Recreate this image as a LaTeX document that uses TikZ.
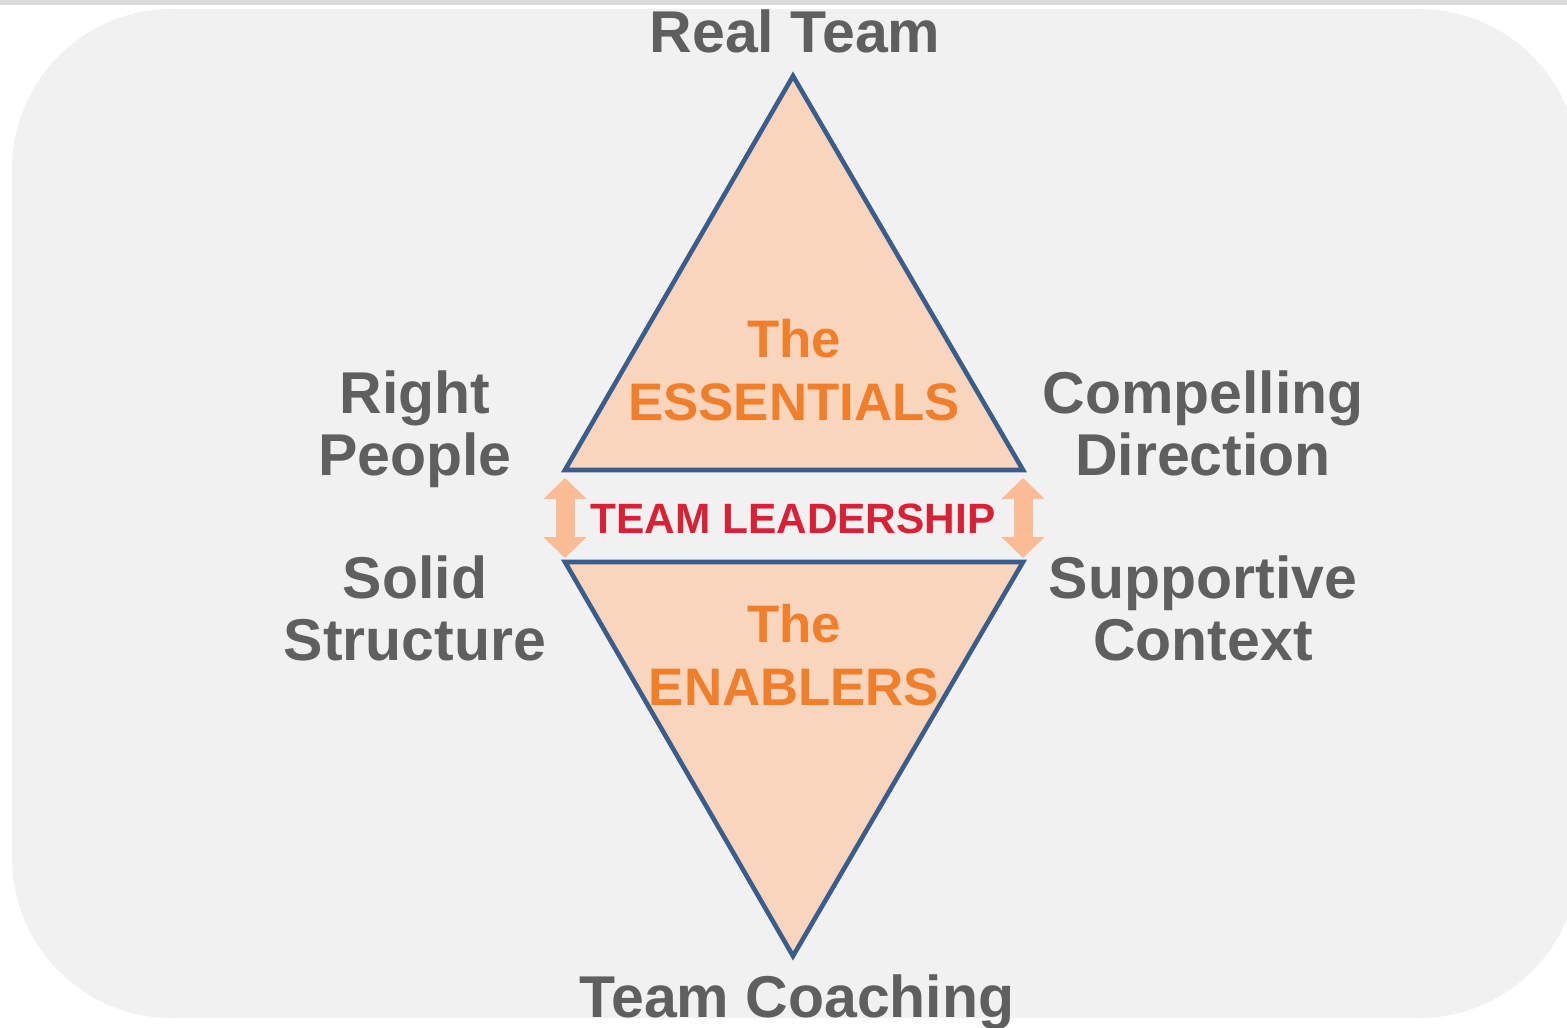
\documentclass[tikz,border=0pt]{standalone}
\usepackage{fontspec}
\setmainfont{Liberation Sans}
\usetikzlibrary{arrows.meta}

\definecolor{panelgray}{HTML}{F1F1F1}
\definecolor{bargray}{HTML}{DCDCDC}
\definecolor{edgeblue}{HTML}{3A5D8C}
\definecolor{peach}{HTML}{F9D5BD}
\definecolor{textgray}{HTML}{5F5F5F}
\definecolor{essorange}{HTML}{F07F2C}
\definecolor{leadred}{HTML}{D92135}
\definecolor{arrowpeach}{HTML}{F9BC94}

\begin{document}
\begin{tikzpicture}[x=0.5pt, y=-0.5pt,
    outertext/.style={textgray, align=center, anchor=base,
        font=\fontsize{29.5pt}{31pt}\selectfont\bfseries},
    innertext/.style={essorange, align=center, anchor=base,
        font=\fontsize{26.4pt}{31.5pt}\selectfont\bfseries},
    half/.style={fill=peach, draw=edgeblue, line width=2.3pt},
    pushpull/.style={arrowpeach, line width=9.5pt,
        {Triangle[width=21pt, length=10.5pt]}-{Triangle[width=21pt, length=10.5pt]}}]
    \useasboundingbox (0,0) rectangle (1567,1027);
    \clip (0,0) rectangle (1567,1027);
    % backdrop
    \fill[bargray] (0,0) rectangle (1567,5);
    \fill[panelgray, rounded corners=80pt] (12,9) rectangle (1579,1018);
    % corners of the two triangles
    \coordinate (apex) at (793,76);
    \coordinate (ul) at (565,470);
    \coordinate (ur) at (1023,470);
    \coordinate (ll) at (565,562);
    \coordinate (lr) at (1023,562);
    \coordinate (nadir) at (793,956);
    \draw[half] (apex) -- (ur) -- (ul) -- cycle;
    \draw[half] (nadir) -- (lr) -- (ll) -- cycle;
    \draw[pushpull, shorten <=4pt, shorten >=2pt] (ul) -- (ll);
    \draw[pushpull, shorten <=4pt, shorten >=2pt] (ur) -- (lr);
    % labels (base = last line)
    \node[outertext] (real) at (795,53) {Real Team};
    \node[outertext] (coach) at (797,1017) {Team Coaching};
    \node[outertext] (people) at (415,475) {Right\\People};
    \node[outertext] (direction) at (1203,475) {Compelling\\Direction};
    \node[outertext] (structure) at (415,660) {Solid\\Structure};
    \node[outertext] (context) at (1203,660) {Supportive\\Context};
    \node[innertext] (essentials) at (794,420) {The\\ESSENTIALS};
    \node[innertext] (enablers) at (794,705) {The\\ENABLERS};
    \node[leadred, anchor=base, font=\fontsize{21.2pt}{24pt}\selectfont\bfseries]
        (lead) at (793,533) {TEAM LEADERSHIP};
\end{tikzpicture}
\end{document}
